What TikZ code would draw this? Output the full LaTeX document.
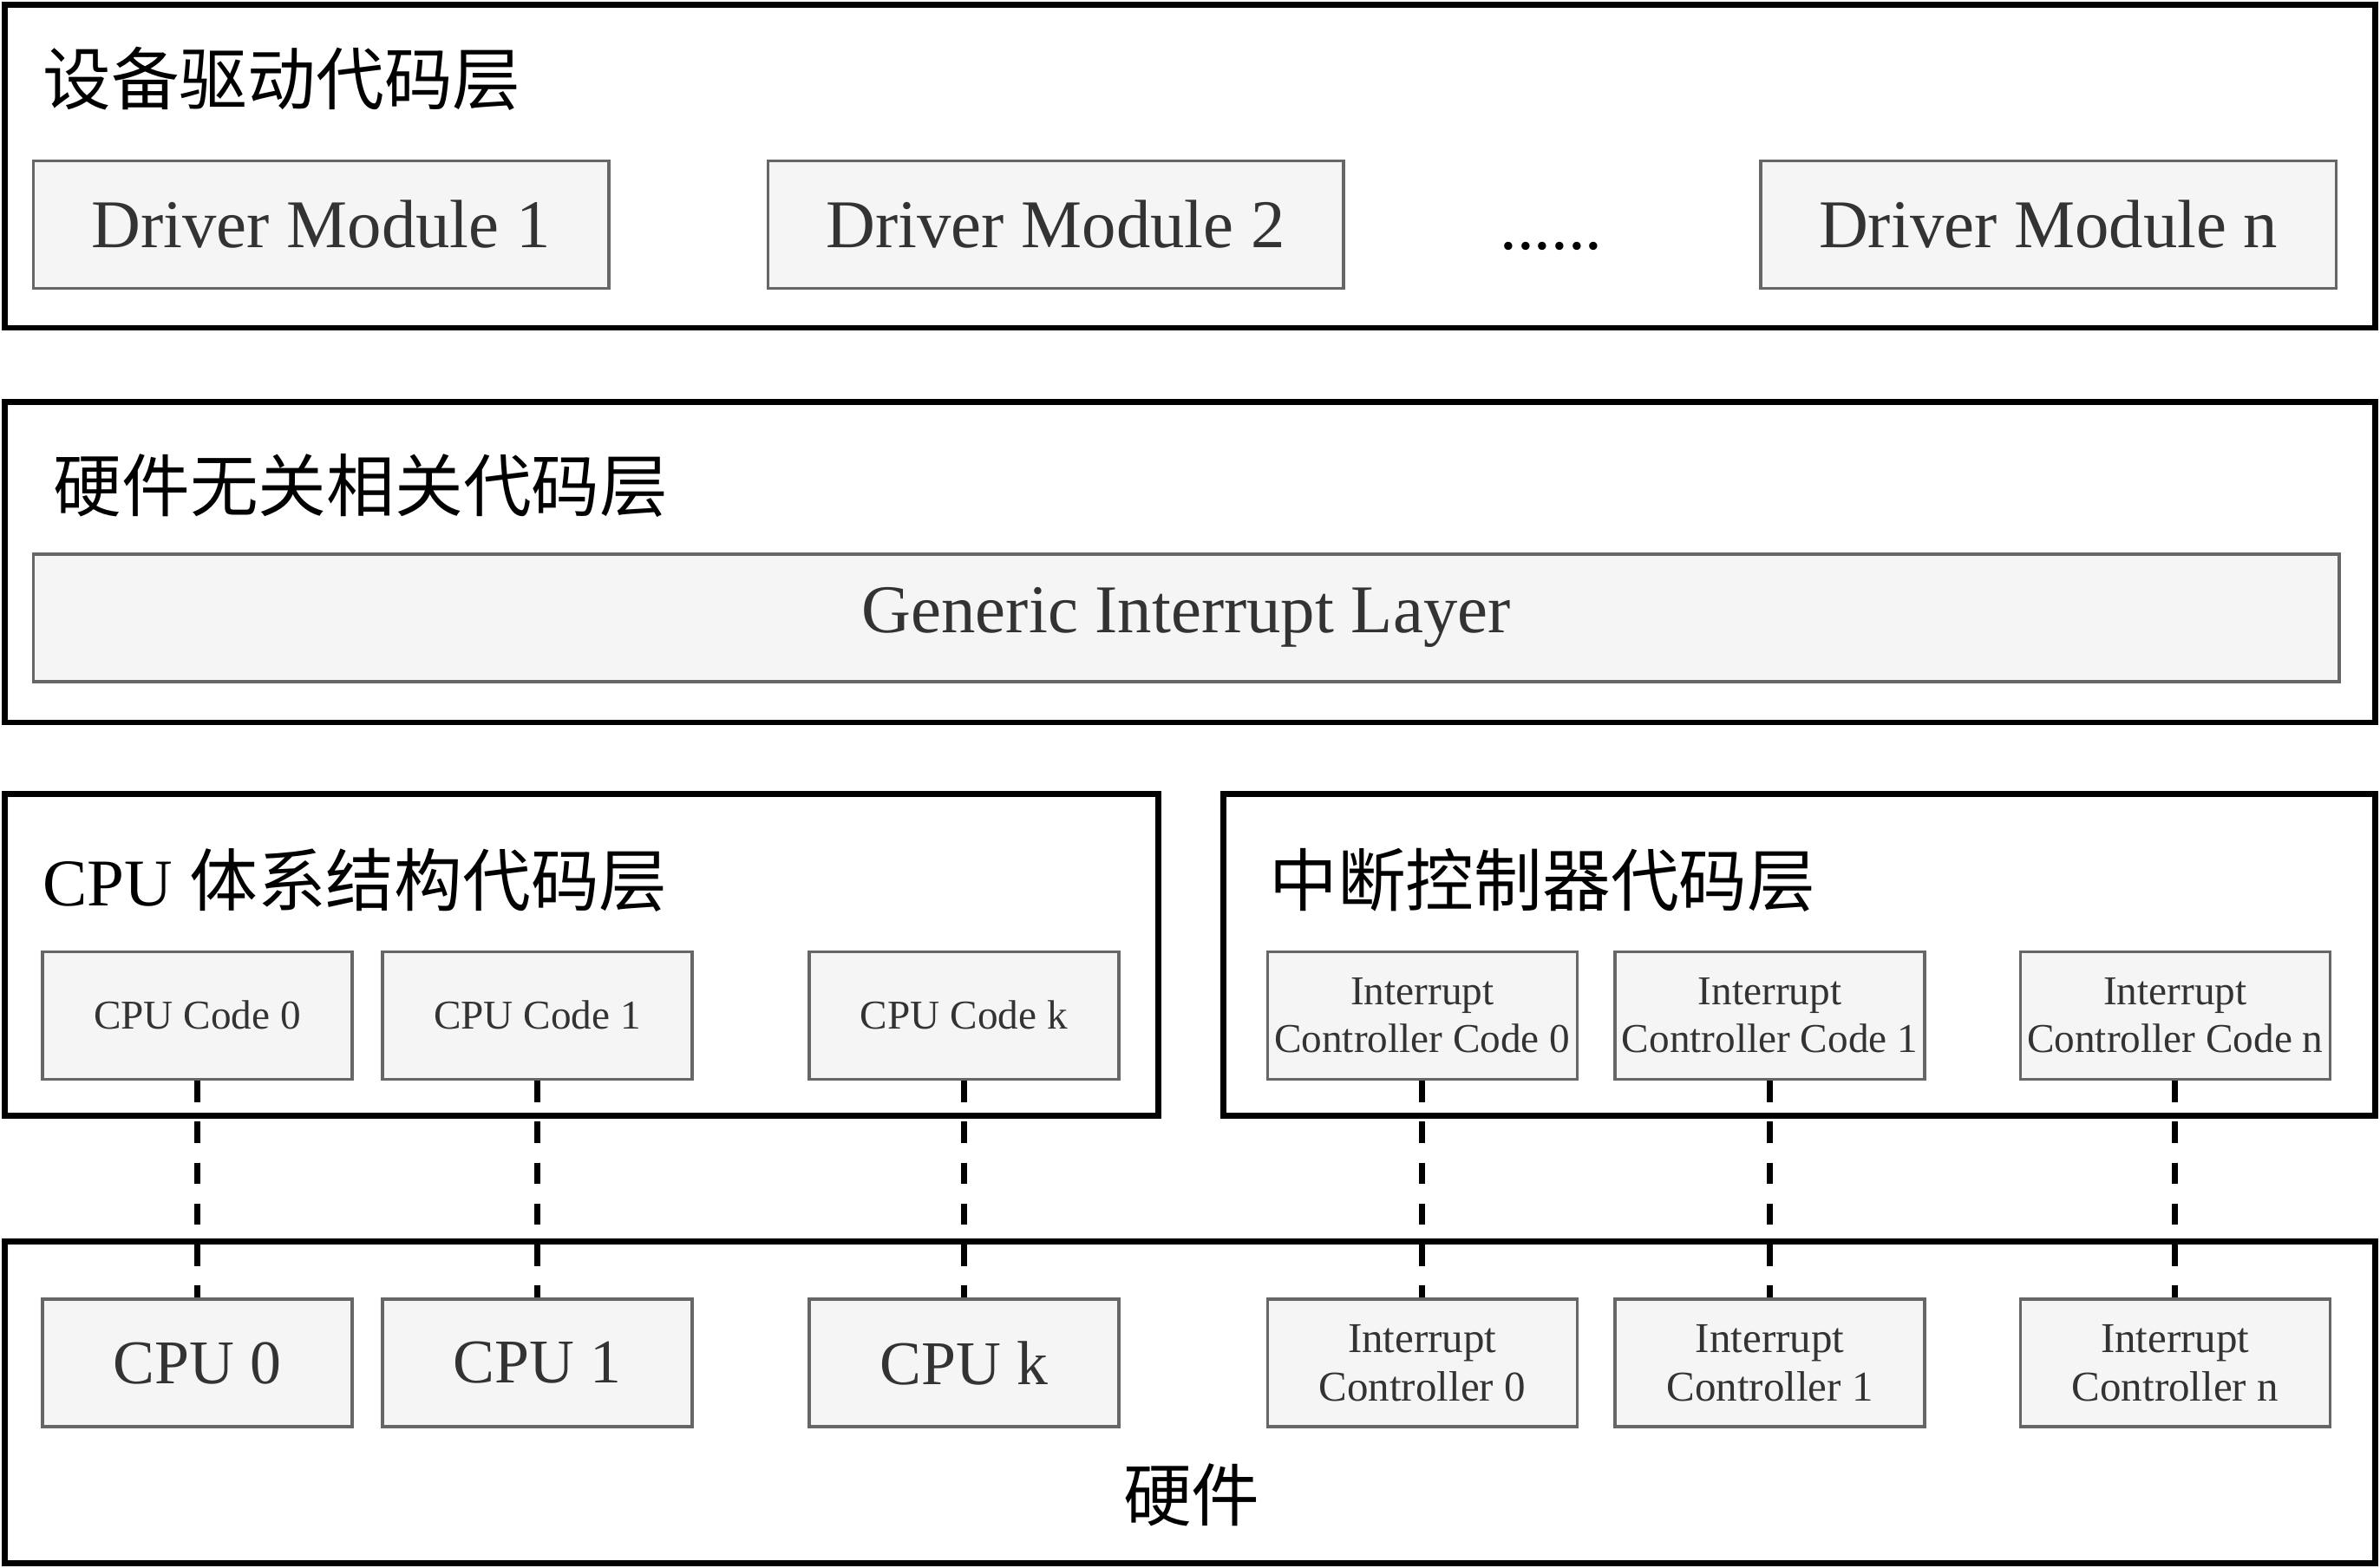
\documentclass[tikz,border=0pt]{standalone}
\usepackage{fontspec}
\setmainfont{Liberation Serif}
\newfontfamily\cjk{Noto Sans CJK SC}
\definecolor{boxfill}{HTML}{F5F5F5}
\definecolor{boxline}{HTML}{666666}
\definecolor{boxtext}{HTML}{333333}
\begin{document}
\begin{tikzpicture}[x=1pt,y=-1pt,
  layer/.style={draw=black,line width=3.8pt},
  title/.style={anchor=west,inner sep=0pt,font=\fontsize{44}{52}\selectfont},
  inbox/.style={draw=boxline,fill=boxfill,line width=2pt,inner sep=0pt,
    text=boxtext,align=center},
  big/.style={inbox,minimum width=379pt,minimum height=84pt,font=\fontsize{45}{54}\selectfont},
  small/.style={inbox,minimum width=204pt,minimum height=84pt,font=\fontsize{27}{31}\selectfont},
  hwcpu/.style={inbox,minimum width=204pt,minimum height=84pt,font=\fontsize{41}{48}\selectfont},
  hwic/.style={inbox,minimum width=204pt,minimum height=84pt,font=\fontsize{28}{32}\selectfont},
  dashline/.style={draw=black,line width=3.8pt,dash pattern=on 14pt off 13pt}]
\useasboundingbox (0,0) rectangle (1568,1033);
% layers
\draw[layer] (3,3) rectangle (1565,216);
\draw[layer] (3,265) rectangle (1565,476);
\draw[layer] (3,523) rectangle (763,735);
\draw[layer] (806,523) rectangle (1565,735);
\draw[layer] (3,818) rectangle (1565,1030);
% titles
\node[title] (t1) at (28,52) {\cjk\fontsize{45}{52}\selectfont 设备驱动代码层};
\node[title] (t2) at (35,320) {\cjk\fontsize{45}{52}\selectfont 硬件无关相关代码层};
\node[title] (t3) at (28,580) {CPU {\cjk\fontsize{45}{52}\selectfont 体系结构代码层}};
\node[title] (t4) at (836,580) {\cjk\fontsize{45}{52}\selectfont 中断控制器代码层};
\node[inner sep=0pt] (t5) at (785,985) {\cjk\fontsize{45}{52}\selectfont 硬件};
% driver modules
\node[big] (d1) at (211.5,148) {Driver Module 1};
\node[big] (d2) at (695.5,148) {Driver Module 2};
\node[anchor=base,inner sep=0pt,font=\fontsize{45}{54}\selectfont] (dots) at (1022,164) {......};
\node[big] (dn) at (1349.5,148) {Driver Module n};
% generic
\node[big,minimum width=1519pt] (gil) at (781.5,407) {Generic Interrupt Layer};
% cpu code
\node[small] (c0) at (130,669) {CPU Code 0};
\node[small] (c1) at (354,669) {CPU Code 1};
\node[small] (ck) at (635,669) {CPU Code k};
% ic code
\node[small] (i0) at (937,669) {Interrupt\\Controller Code 0};
\node[small] (i1) at (1166,669) {Interrupt\\Controller Code 1};
\node[small] (in) at (1433,669) {Interrupt\\Controller Code n};
% hardware
\node[hwcpu] (h0) at (130,898) {CPU 0};
\node[hwcpu] (h1) at (354,898) {CPU 1};
\node[hwcpu] (hk) at (635,898) {CPU k};
\node[hwic] (g0) at (937,898) {Interrupt\\Controller 0};
\node[hwic] (g1) at (1166,898) {Interrupt\\Controller 1};
\node[hwic] (gn) at (1433,898) {Interrupt\\Controller n};
% connectors
\draw[dashline] (c0.south) -- (h0.north);
\draw[dashline] (c1.south) -- (h1.north);
\draw[dashline] (ck.south) -- (hk.north);
\draw[dashline] (i0.south) -- (g0.north);
\draw[dashline] (i1.south) -- (g1.north);
\draw[dashline] (in.south) -- (gn.north);
\end{tikzpicture}
\end{document}
